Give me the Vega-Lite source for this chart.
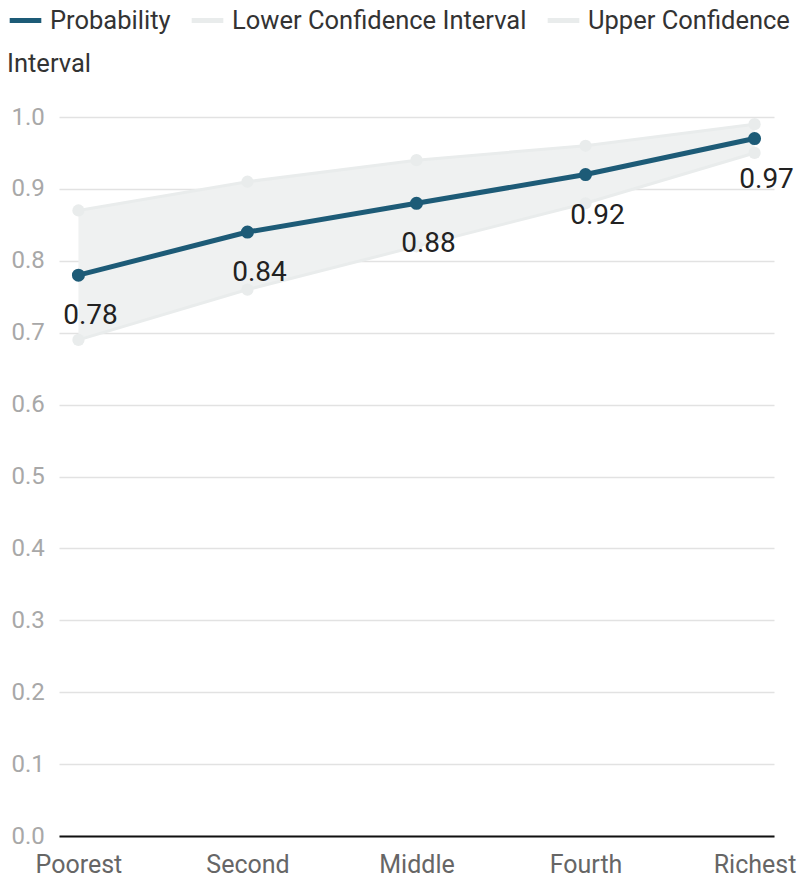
{
  "$schema": "https://vega.github.io/schema/vega-lite/v6.json",
  "width": 715,
  "height": 719,
  "autosize": "none",
  "padding": {"left": 59, "top": 117, "right": 27, "bottom": 43},
  "background": "white",
  "config": {"font": "Roboto", "view": {"stroke": null}},
  "data": {
    "values": [
      {"quintile": "Poorest", "Probability": 0.78, "Lower Confidence Interval": 0.69, "Upper Confidence Interval": 0.87},
      {"quintile": "Second", "Probability": 0.84, "Lower Confidence Interval": 0.76, "Upper Confidence Interval": 0.91},
      {"quintile": "Middle", "Probability": 0.88, "Lower Confidence Interval": 0.82, "Upper Confidence Interval": 0.94},
      {"quintile": "Fourth", "Probability": 0.92, "Lower Confidence Interval": 0.88, "Upper Confidence Interval": 0.96},
      {"quintile": "Richest", "Probability": 0.97, "Lower Confidence Interval": 0.95, "Upper Confidence Interval": 0.99}
    ]
  },
  "encoding": {
    "x": {
      "field": "quintile",
      "type": "ordinal",
      "sort": ["Poorest", "Second", "Middle", "Fourth", "Richest"],
      "scale": {"type": "point", "padding": 0.115},
      "axis": {
        "title": null,
        "labelAngle": 0,
        "labelFontSize": 25,
        "labelColor": "#666666",
        "ticks": false,
        "labelPadding": 16,
        "domainColor": "#111111",
        "domainWidth": 2,
        "grid": false
      }
    }
  },
  "layer": [
    {
      "mark": {"type": "area", "color": "#eff1f1", "opacity": 1},
      "encoding": {
        "y": {
          "field": "Lower Confidence Interval",
          "type": "quantitative",
          "scale": {"domain": [0, 1]},
          "axis": {
            "title": null,
            "values": [0, 0.1, 0.2, 0.3, 0.4, 0.5, 0.6, 0.7, 0.8, 0.9, 1.0],
            "format": ".1f",
            "labelFontSize": 24,
            "labelColor": "#a8a8a8",
            "ticks": false,
            "domain": false,
            "gridColor": "#e2e2e2",
            "gridWidth": 1.5,
            "labelAlign": "left",
            "labelPadding": 48
          }
        },
        "y2": {"field": "Upper Confidence Interval"}
      }
    },
    {
      "transform": [
        {"fold": ["Probability", "Lower Confidence Interval", "Upper Confidence Interval"], "as": ["series", "value"]},
        {"filter": "datum.series !== 'Probability'"}
      ],
      "mark": {"type": "line", "strokeWidth": 3, "point": {"filled": true, "size": 150}},
      "encoding": {
        "y": {"field": "value", "type": "quantitative"},
        "color": {
          "field": "series",
          "type": "nominal",
          "scale": {
            "domain": ["Probability", "Lower Confidence Interval", "Upper Confidence Interval"],
            "range": ["#1d5b77", "#e9ecec", "#e9ecec"]
          },
          "legend": {
            "orient": "none",
            "legendX": -52,
            "legendY": -115,
            "direction": "horizontal",
            "title": "Interval",
            "titleOrient": "bottom",
            "titleAnchor": "start",
            "titleFontSize": 25.5,
            "titleFontWeight": "normal",
            "titleColor": "#333333",
            "titlePadding": 18,
            "labelFontSize": 25.5,
            "labelColor": "#333333",
            "labelLimit": 400,
            "labelOffset": 6,
            "labelExpr": "datum.label === 'Upper Confidence Interval' ? 'Upper Confidence' : datum.label",
            "columnPadding": 10,
            "symbolType": "stroke",
            "symbolStrokeWidth": 5,
            "symbolSize": 1000
          }
        }
      }
    },
    {
      "transform": [
        {"fold": ["Probability", "Lower Confidence Interval", "Upper Confidence Interval"], "as": ["series", "value"]},
        {"filter": "datum.series === 'Probability'"}
      ],
      "mark": {"type": "line", "strokeWidth": 5, "point": {"filled": true, "size": 170}},
      "encoding": {
        "y": {"field": "value", "type": "quantitative"},
        "color": {"field": "series", "type": "nominal"}
      }
    },
    {
      "mark": {"type": "text", "fontSize": 28, "color": "#222222", "dy": 41, "dx": 12},
      "encoding": {
        "y": {"field": "Probability", "type": "quantitative"},
        "text": {"field": "Probability", "type": "quantitative", "format": ".2f"}
      }
    }
  ]
}
